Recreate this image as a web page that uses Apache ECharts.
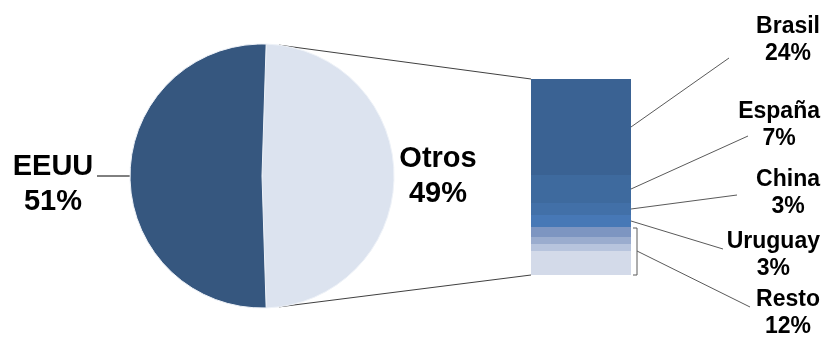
<!DOCTYPE html>
<html>
<head>
<meta charset="utf-8">
<script src="https://cdn.jsdelivr.net/npm/echarts@6/dist/echarts.min.js"></script>
<style>
  html, body { margin: 0; padding: 0; background: #fff; }
  #chart { width: 824px; height: 338px; }
</style>
</head>
<body>
<div id="chart"></div>
<script>
// Destination split: main pie and the breakdown of "Otros"
const pieNames = ['Otros', 'EEUU'];
const pieValues = [49, 51];

const otrosNames = ['Brasil', 'España', 'China', 'Uruguay', 'Resto'];
const otrosValues = [24, 7, 3, 3, 12];

// ---- layout & style (kept apart from the data) ----
const FONT = "'Liberation Sans', Arial, sans-serif";
const PIE_CENTER = [262, 176];
const PIE_RADIUS = 132;
// 196px for 49 points keeps every segment edge on a whole pixel (no seams)
const GRID = { left: 531, top: 79, width: 100, height: 196 };
const CONNECTOR_ANGLE = 82.6;           // where the zoom lines leave the pie
const LABEL_RIGHT = 820;                 // right edge of the breakdown labels
const LABEL_CENTER_Y = [40, 125, 193, 255, 313];
const LEADER_END = [[729, 58], [748, 136], [737, 195], [723, 249], [750, 307]];
const SOLID_COLORS = ['#3a6293', '#3e6a9e', '#4270a8', '#4778b6'];
const REST_GRADIENT = new echarts.graphic.LinearGradient(0, 0, 0, 1, [
  { offset: 0, color: '#7d95c1' }, { offset: 0.2, color: '#7d95c1' },
  { offset: 0.2, color: '#9aacce' }, { offset: 0.35, color: '#9aacce' },
  { offset: 0.35, color: '#b7c4dd' }, { offset: 0.5, color: '#b7c4dd' },
  { offset: 0.5, color: '#d3dae9' }, { offset: 1, color: '#d3dae9' }
]);

const otrosTotal = otrosValues.reduce((a, b) => a + b, 0);
const pieTotal = pieValues.reduce((a, b) => a + b, 0);
// centre the "EEUU" slice on the left side
const startAngle = 360 * pieValues[0] / pieTotal / 2;

const chart = echarts.init(document.getElementById('chart'), null, { renderer: 'canvas' });

function labelPlacement(i) {
  return function (p) {
    return {
      x: LABEL_RIGHT - p.labelRect.width / 2,
      y: LABEL_CENTER_Y[i],
      align: 'center',
      verticalAlign: 'middle'
    };
  };
}

const pieRich = {
  n: { fontFamily: FONT, fontSize: 29, fontWeight: 'bold', lineHeight: 35,
       width: 82, align: 'center', color: '#000' }
};

const barSeries = otrosNames.map((name, i) => ({
  type: 'bar',
  name: name,
  stack: 'otros',
  barWidth: '100%',
  data: [otrosValues[i]],
  itemStyle: { color: SOLID_COLORS[i] || REST_GRADIENT, borderWidth: 0 },
  label: {
    show: true,
    position: 'right',
    formatter: '{a}\n{c}%',
    fontFamily: FONT,
    fontSize: 23,
    fontWeight: 'bold',
    lineHeight: 27,
    color: '#000',
    align: 'center'
  },
  labelLayout: labelPlacement(i),
  emphasis: { disabled: true }
}));

chart.setOption({
  animation: false,
  backgroundColor: '#fff',
  grid: { left: GRID.left, top: GRID.top, width: GRID.width, height: GRID.height },
  xAxis: { type: 'category', data: ['Otros'], show: false },
  yAxis: { type: 'value', min: 0, max: otrosTotal, inverse: true, show: false },
  series: [
    {
      type: 'pie',
      center: PIE_CENTER,
      radius: PIE_RADIUS,
      startAngle: startAngle,
      clockwise: true,
      avoidLabelOverlap: false,
      emphasis: { disabled: true },
      itemStyle: { borderColor: '#eef2f8', borderWidth: 1 },
      label: {
        show: true,
        position: 'outside',
        distanceToLabelLine: 3,
        formatter: p => `{n|${p.name}}\n{n|${p.value}%}`,
        rich: pieRich
      },
      labelLine: { show: true, length: 0, length2: 33, lineStyle: { color: '#000', width: 1 } },
      data: [
        { name: pieNames[0], value: pieValues[0], itemStyle: { color: '#dce3ef' },
          labelLine: { show: false, length: 0, length2: 0 } },
        { name: pieNames[1], value: pieValues[1], itemStyle: { color: '#36577f' },
          label: { padding: [16, 0, 0, 0] } }
      ]
    },
    ...barSeries
  ]
});

// ---- connector lines, computed from the rendered scales ----
const yAt = v => chart.convertToPixel({ yAxisIndex: 0 }, v);
const barRight = GRID.left + GRID.width;
const yTop = yAt(0);
const yBottom = yAt(otrosTotal);

const a = CONNECTOR_ANGLE * Math.PI / 180;
const px = PIE_CENTER[0] + PIE_RADIUS * Math.cos(a);
const pyTop = PIE_CENTER[1] - PIE_RADIUS * Math.sin(a);
const pyBottom = PIE_CENTER[1] + PIE_RADIUS * Math.sin(a);
const zoomLine = { stroke: '#404040', lineWidth: 1 };
const leaderLine = { stroke: '#5a5a5a', lineWidth: 1, fill: null };

const graphics = [
  { type: 'line', silent: true, shape: { x1: px, y1: pyTop, x2: GRID.left, y2: yTop }, style: zoomLine },
  { type: 'line', silent: true, shape: { x1: px, y1: pyBottom, x2: GRID.left, y2: yBottom }, style: zoomLine }
];

let cum = 0;
otrosValues.forEach((v, i) => {
  const y0 = yAt(cum), y1 = yAt(cum + v);
  cum += v;
  const end = LEADER_END[i];
  if (i === otrosValues.length - 1) {
    // bracket around the "Resto" block, then the leader
    const bx = barRight + 6, mid = (y0 + y1) / 2;
    graphics.push({ type: 'polyline', silent: true,
      shape: { points: [[barRight + 2, y0 + 1], [bx, y0 + 1], [bx, y1], [barRight + 2, y1]] },
      style: leaderLine });
    graphics.push({ type: 'line', silent: true,
      shape: { x1: bx, y1: mid, x2: end[0], y2: end[1] }, style: leaderLine });
  } else {
    graphics.push({ type: 'line', silent: true,
      shape: { x1: barRight, y1: (y0 + y1) / 2, x2: end[0], y2: end[1] }, style: leaderLine });
  }
});

chart.setOption({ graphic: graphics });
</script>
</body>
</html>
